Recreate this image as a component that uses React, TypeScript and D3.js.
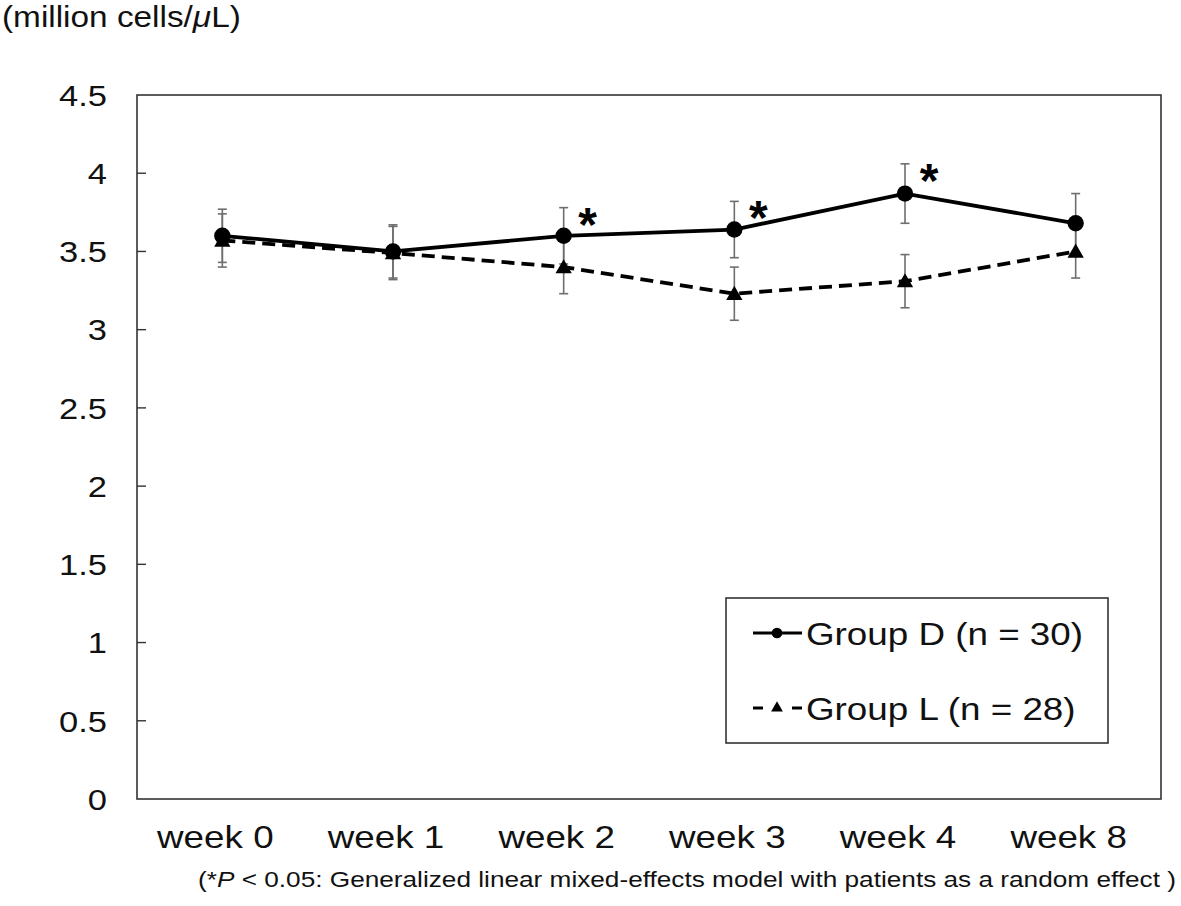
import { useEffect, useRef } from "react";
import * as d3 from "d3";

const weeks = ["week 0", "week 1", "week 2", "week 3", "week 4", "week 8"];
const groupD = [3.6, 3.5, 3.6, 3.64, 3.87, 3.68];
const groupDErr = [0.17, 0.17, 0.18, 0.18, 0.19, 0.19];
const groupL = [3.57, 3.49, 3.4, 3.23, 3.31, 3.5];
const groupLErr = [0.17, 0.17, 0.17, 0.17, 0.17, 0.17];
const significant = ["week 2", "week 3", "week 4"];
const yTicks = [0, 0.5, 1, 1.5, 2, 2.5, 3, 3.5, 4, 4.5];

const FONT = "'Liberation Sans', Arial, Helvetica, sans-serif";
// the source figure's lettering is a bit wider than Liberation Sans
const STRETCH = 1.15;

export default function App() {
  const svgRef = useRef<SVGSVGElement | null>(null);

  useEffect(() => {
    const width = 1181;
    const height = 906;
    const margin = { top: 95, right: 20, bottom: 107, left: 137 };

    const svg = d3.select(svgRef.current);
    svg.selectAll("*").remove();
    svg.attr("viewBox", `0 0 ${width} ${height}`);

    svg.append("rect").attr("width", width).attr("height", height).attr("fill", "#fff");

    const x = d3.scaleBand<string>()
      .domain(weeks)
      .range([margin.left, width - margin.right]);
    const xc = (w: string) => (x(w) as number) + x.bandwidth() / 2;

    const y = d3.scaleLinear()
      .domain([0, 4.5])
      .range([height - margin.bottom, margin.top]);

    const at = (px: number, py: number) => `translate(${px},${py}) scale(${STRETCH},1)`;

    // plot frame
    svg.append("rect")
      .attr("x", margin.left)
      .attr("y", margin.top)
      .attr("width", width - margin.left - margin.right)
      .attr("height", height - margin.top - margin.bottom)
      .attr("fill", "none")
      .attr("stroke", "#333")
      .attr("stroke-width", 1.6);

    // y axis ticks (inward) + labels
    svg.append("g")
      .selectAll("line")
      .data(yTicks.slice(1, -1))
      .join("line")
      .attr("x1", margin.left)
      .attr("x2", margin.left + 9)
      .attr("y1", d => y(d))
      .attr("y2", d => y(d))
      .attr("stroke", "#333")
      .attr("stroke-width", 1.4);

    svg.append("g")
      .selectAll("text")
      .data(yTicks)
      .join("text")
      .attr("transform", d => at(107, y(d)))
      .attr("dy", "0.36em")
      .attr("text-anchor", "end")
      .attr("font-family", FONT)
      .attr("font-size", 30)
      .attr("fill", "#111")
      .text(d => String(d));

    // x labels
    svg.append("g")
      .selectAll("text")
      .data(weeks)
      .join("text")
      .attr("transform", d => at(xc(d) - 7, 848))
      .attr("text-anchor", "middle")
      .attr("font-family", FONT)
      .attr("font-size", 32)
      .attr("fill", "#111")
      .text(d => d);

    // unit title
    svg.append("text")
      .attr("transform", at(2, 27))
      .attr("font-family", FONT)
      .attr("font-size", 29)
      .attr("fill", "#111")
      .call(t => {
        t.append("tspan").text("(million cells/");
        t.append("tspan").attr("font-style", "italic").text("μ");
        t.append("tspan").text("L)");
      });

    const series = [
      { name: "D", values: groupD, err: groupDErr, dash: null as string | null, marker: "circle" },
      { name: "L", values: groupL, err: groupLErr, dash: "13,7", marker: "triangle" },
    ];

    // error bars
    const eb = svg.append("g").attr("stroke", "#6e6e6e").attr("stroke-width", 1.6);
    series.forEach(s => {
      weeks.forEach((w, i) => {
        const cx = xc(w);
        const top = y(s.values[i] + s.err[i]);
        const bot = y(s.values[i] - s.err[i]);
        eb.append("line").attr("x1", cx).attr("x2", cx).attr("y1", top).attr("y2", bot);
        eb.append("line").attr("x1", cx - 4.5).attr("x2", cx + 4.5).attr("y1", top).attr("y2", top);
        eb.append("line").attr("x1", cx - 4.5).attr("x2", cx + 4.5).attr("y1", bot).attr("y2", bot);
      });
    });

    const line = d3.line<number>()
      .x((_, i) => xc(weeks[i]))
      .y(d => y(d));

    const circle = d3.symbol().type(d3.symbolCircle).size(210);
    const tri = d3.symbol().type(d3.symbolTriangle).size(115);

    [...series].reverse().forEach(s => {
      svg.append("path")
        .attr("d", line(s.values))
        .attr("fill", "none")
        .attr("stroke", "#000")
        .attr("stroke-width", 3.8)
        .attr("stroke-dasharray", s.dash);
      svg.append("g")
        .selectAll("path")
        .data(s.values)
        .join("path")
        .attr("transform", (d, i) => `translate(${xc(weeks[i])},${y(d) + (s.marker === "triangle" ? 1.5 : 0)})`)
        .attr("d", s.marker === "circle" ? circle() : tri())
        .attr("fill", "#000");
    });

    // significance asterisks
    svg.append("g")
      .selectAll("text")
      .data(significant)
      .join("text")
      .attr("x", d => xc(d) + 24)
      .attr("y", d => {
        const i = weeks.indexOf(d);
        return y(groupD[i] + groupDErr[i]) + 33;
      })
      .attr("text-anchor", "middle")
      .attr("font-family", FONT)
      .attr("font-weight", "bold")
      .attr("font-size", 48)
      .attr("fill", "#000")
      .text("*");

    // legend
    const lg = svg.append("g");
    lg.append("rect")
      .attr("x", 726).attr("y", 598)
      .attr("width", 382).attr("height", 145)
      .attr("fill", "#fff")
      .attr("stroke", "#333")
      .attr("stroke-width", 1.6);
    const legendItems = [
      { label: "Group D (n = 30)", dash: null as string | null, sym: d3.symbol().type(d3.symbolCircle).size(90)(), ly: 633 },
      { label: "Group L (n = 28)", dash: "10,29", sym: d3.symbol().type(d3.symbolTriangle).size(60)(), ly: 708 },
    ];
    legendItems.forEach(it => {
      lg.append("line")
        .attr("x1", 753).attr("x2", 802)
        .attr("y1", it.ly).attr("y2", it.ly)
        .attr("stroke", "#000")
        .attr("stroke-width", 3)
        .attr("stroke-dasharray", it.dash);
      lg.append("path")
        .attr("d", it.sym)
        .attr("transform", `translate(777,${it.ly})`)
        .attr("fill", "#000");
      lg.append("text")
        .attr("transform", at(806, it.ly + 12))
        .attr("font-family", FONT)
        .attr("font-size", 32)
        .attr("fill", "#111")
        .text(it.label);
    });

    // footnote
    svg.append("text")
      .attr("x", 198)
      .attr("y", 887)
      .attr("font-family", FONT)
      .attr("font-size", 22)
      .attr("fill", "#111")
      .attr("textLength", 978)
      .attr("lengthAdjust", "spacingAndGlyphs")
      .call(t => {
        t.append("tspan").text("(*");
        t.append("tspan").attr("font-style", "italic").text("P");
        t.append("tspan").text(" < 0.05: Generalized linear mixed-effects model with patients as a random effect )");
      });
  }, []);

  return (
    <svg
      ref={svgRef}
      width={1181}
      height={906}
      style={{ position: "absolute", left: 0, top: 0, display: "block" }}
    />
  );
}
